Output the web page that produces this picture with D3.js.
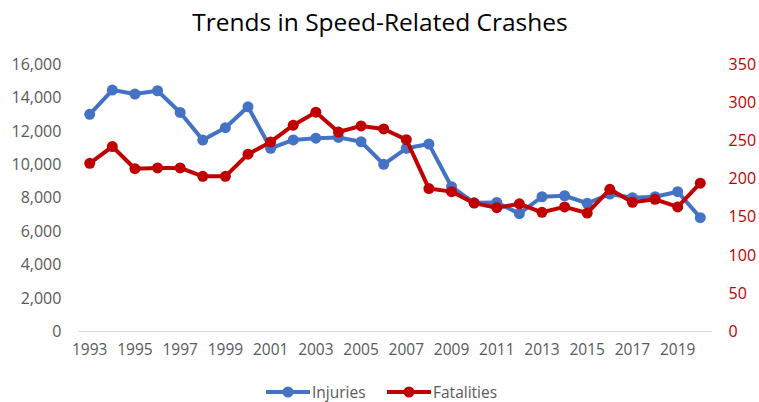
<!DOCTYPE html>
<html>
<head>
<meta charset="utf-8">
<script src="https://cdn.jsdelivr.net/npm/d3@7"></script>
<style>
  body { margin: 0; background: #fff; }
  svg { display: block; font-family: "Open Sans", sans-serif; }
</style>
</head>
<body>
<svg id="chart" width="759" height="402"></svg>
<script>
// values
const years = d3.range(1993, 2021);
const injuries = [12990, 14440, 14200, 14400, 13100, 11450, 12190, 13440, 10960, 11460,
  11560, 11610, 11350, 10000, 10960, 11210, 8660, 7700, 7720, 7050,
  8060, 8120, 7670, 8220, 8000, 8060, 8360, 6810];
const fatalities = [220, 242, 213, 214, 214, 203, 203, 232, 248, 270,
  287, 261, 269, 265, 251, 187, 183, 168, 162, 167,
  156, 163, 155, 186, 169, 173, 163, 194];
const leftTicks = [0, 2000, 4000, 6000, 8000, 10000, 12000, 14000, 16000];
const rightTicks = [0, 50, 100, 150, 200, 250, 300, 350];

const svg = d3.select("#chart");
const margin = {left: 78.4, right: 47.4, top: 64, bottom: 70.5};
const width = 759, height = 402;

const x = d3.scaleBand()
  .domain(years)
  .range([margin.left, width - margin.right]);

const yL = d3.scaleLinear().domain([0, 16000]).range([height - margin.bottom, margin.top]);
const yR = d3.scaleLinear().domain([0, 350]).range([height - margin.bottom, margin.top]);

const cx = d => x(d) + x.bandwidth() / 2;

// title
svg.append("text")
  .attr("x", 380).attr("y", 31)
  .attr("text-anchor", "middle")
  .style("font-size", "24.5px")
  .style("fill", "#000")
  .text("Trends in Speed-Related Crashes");

// left axis
const fmt = d3.format(",");
const leftAxis = svg.append("g")
  .attr("transform", `translate(${margin.left},0)`)
  .call(d3.axisLeft(yL).tickValues(leftTicks).tickFormat(fmt).tickSize(0).tickPadding(17));
leftAxis.select(".domain").remove();
leftAxis.selectAll("text").style("font-size", "16px").style("fill", "#595959").style("font-family", "Open Sans");

// right axis
const rightAxis = svg.append("g")
  .attr("transform", `translate(${width - margin.right},0)`)
  .call(d3.axisRight(yR).tickValues(rightTicks).tickSize(0).tickPadding(17));
rightAxis.select(".domain").remove();
rightAxis.selectAll("text").style("font-size", "16px").style("fill", "#C00000").style("font-family", "Open Sans");

// baseline
svg.append("line")
  .attr("x1", margin.left).attr("x2", width - margin.right)
  .attr("y1", yL(0)).attr("y2", yL(0))
  .style("stroke", "#d9d9d9").style("stroke-width", 1);

// x axis labels
const bottomAxis = svg.append("g")
  .attr("transform", `translate(0,${yL(0)})`)
  .call(d3.axisBottom(x).tickValues(years.filter((d, i) => i % 2 === 0)).tickSize(0).tickPadding(12));
bottomAxis.select(".domain").remove();
bottomAxis.selectAll("text").style("font-size", "15.5px").style("fill", "#595959").style("font-family", "Open Sans");

function addSeries(values, yScale, color) {
  const pts = years.map((yr, i) => [cx(yr), yScale(values[i])]);
  svg.append("path")
    .datum(pts)
    .attr("d", d3.line())
    .style("fill", "none")
    .style("stroke", color)
    .style("stroke-width", 4)
    .style("stroke-linejoin", "round");
  svg.append("g").selectAll("circle")
    .data(pts)
    .enter().append("circle")
    .attr("cx", d => d[0]).attr("cy", d => d[1])
    .attr("r", 5.5)
    .style("fill", color);
}

addSeries(injuries, yL, "#4472C4");
addSeries(fatalities, yR, "#C00000");

// legend
const legend = [
  {name: "Injuries", color: "#4472C4", x: 266},
  {name: "Fatalities", color: "#C00000", x: 387}
];
const lg = svg.append("g").selectAll("g")
  .data(legend)
  .enter().append("g")
  .attr("transform", d => `translate(${d.x},392)`);
lg.append("line").attr("x1", 0).attr("x2", 44)
  .style("stroke", d => d.color).style("stroke-width", 4);
lg.append("circle").attr("cx", 22).attr("r", 5.5).style("fill", d => d.color);
lg.append("text").attr("x", 46).attr("y", 5.5)
  .style("font-size", "15.5px").style("fill", "#595959")
  .text(d => d.name);
</script>
</body>
</html>
